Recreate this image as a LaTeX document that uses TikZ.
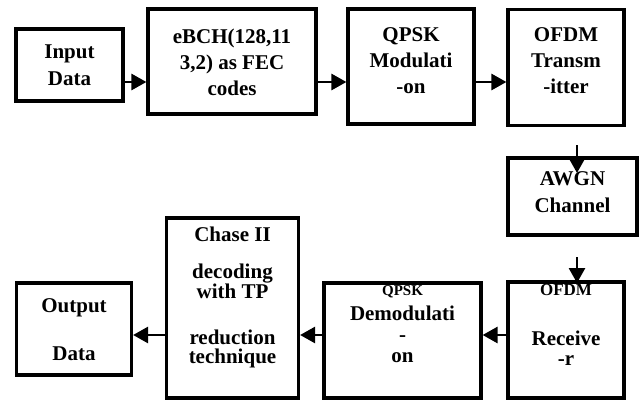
\documentclass[tikz,border=0pt]{standalone}
\usepackage{fontspec}
\setmainfont{Liberation Serif}
\usetikzlibrary{arrows.meta}
% struts that fix the first line top and the last line bottom of a box
\newcommand{\toppad}[1][20pt]{\rule{0pt}{#1}}
\newcommand{\botpad}[1]{\rule[-#1]{0pt}{#1}}

\begin{document}
\begin{tikzpicture}[x=1pt,y=-1pt,
  block/.style={draw, line width=3.2pt, align=center, inner sep=0pt,
    font=\fontsize{21}{26}\selectfont\bfseries},
  tight/.style={font=\fontsize{21}{20}\selectfont\bfseries},
  flow/.style={-{Triangle[length=15pt,width=16pt]}, line width=2.8pt}]
\useasboundingbox (0,0) rectangle (644,401);
\coordinate (toprow) at (0,82);
\coordinate (botrow) at (0,335);
% transmitter chain
\node[block, minimum width=107pt, minimum height=72pt] (inp) at (69.5,65)
  {\toppad Input\\[1.7pt]Data\botpad{5.7pt}};
\node[block, minimum width=168pt, minimum height=105pt] (ebch) at (232,61.5)
  {\toppad eBCH(128,11\\3,2) as FEC\\codes\botpad{4.4pt}};
\node[block, minimum width=126pt, minimum height=115pt] (qpsk) at (411,66.5)
  {\toppad QPSK\\Modulati\\-on\botpad{18pt}};
\node[block, minimum width=116pt, minimum height=116pt] (ofdmtx) at (566,67.5)
  {\toppad OFDM\\Transm\\-itter\botpad{19pt}};
% channel
\node[block, minimum width=129pt, minimum height=77pt] (awgn) at (572.5,196.5)
  {\toppad AWGN\\[1pt]Channel\botpad{16pt}};
% receiver chain
\node[block, tight, minimum width=116pt, minimum height=116pt] (ofdmrx) at (566,340)
  {\toppad[12pt]{\fontsize{17}{20}\selectfont OFDM}\\[30pt]Receive\\-r\botpad{32pt}};
\node[block, tight, minimum width=157pt, minimum height=115pt] (demod) at (402.5,340.5)
  {\toppad[12pt]{\fontsize{15}{18}\selectfont QPSK}\\[5pt]Demodulati\\[1pt]-\\[1pt]on\botpad{36pt}};
\node[block, tight, minimum width=132pt, minimum height=180pt] (chase) at (232.5,308)
  {\toppad Chase II\\[17pt]decoding\\with TP\\[26pt]reduction\\[-1pt]technique\botpad{32pt}};
\node[block, minimum width=115pt, minimum height=92pt] (outp) at (74,329)
  {\toppad Output\\[22pt]Data\botpad{6pt}};
% connectors
\draw[flow] (inp.east |- toprow) -- (ebch.west |- toprow);
\draw[flow] (ebch.east |- toprow) -- (qpsk.west |- toprow);
\draw[flow] (qpsk.east |- toprow) -- (ofdmtx.west |- toprow);
\coordinate (chin) at (577,145);
\coordinate (chtip) at (577,173);
\coordinate (rxin) at (577,257);
\coordinate (rxtip) at (577,283);
\draw[flow] (chin) -- (chtip);
\draw[flow] (rxin) -- (rxtip);
\draw[flow] (ofdmrx.west |- botrow) -- (demod.east |- botrow);
\draw[flow] (demod.west |- botrow) -- (chase.east |- botrow);
\draw[flow] (chase.west |- botrow) -- (outp.east |- botrow);
\end{tikzpicture}
\end{document}
